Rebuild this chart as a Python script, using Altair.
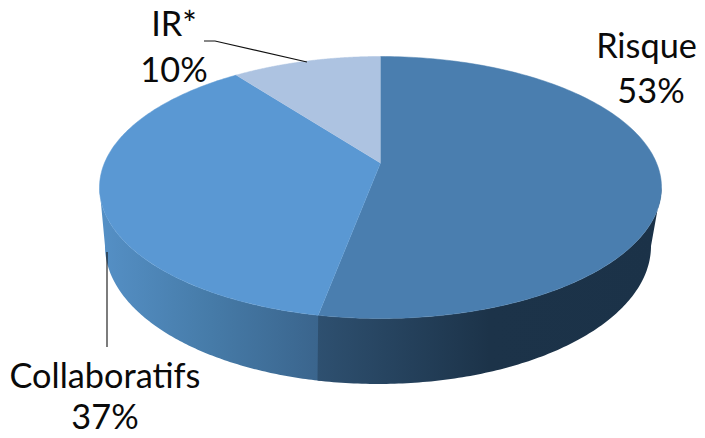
import math
import altair as alt
import pandas as pd

categories = ["Risque", "Collaboratifs", "IR*"]
values = [53.0, 36.6, 10.4]
top_colors = ["#4a7eaf", "#5a98d3", "#adc3e1"]
label_x1 = [646.5, 105, 174]
label_x2 = [651, 105, 174]
label_y1 = [58, 388, 36]
label_y2 = [103, 429, 82]
leader_irx = [204, 215, 307]
leader_iry = [41, 41, 62]
leader_cox = [107, 107]
leader_coy = [252, 347]

CX, CY, RX, RY = 380.5, 187.5, 281, 131
BX, BY, BRX, BRY = 378, 246, 273, 138
AX, AY = 380.5, 163

def boundary(theta):
    dx, dy = math.sin(theta) * RX, -math.cos(theta) * RY
    ox, oy = AX - CX, AY - CY
    a = (dx / RX) ** 2 + (dy / RY) ** 2
    b = 2 * (ox * dx / RX ** 2 + oy * dy / RY ** 2)
    c = (ox / RX) ** 2 + (oy / RY) ** 2 - 1
    s = (-b + math.sqrt(b * b - 4 * a * c)) / (2 * a)
    return AX + s * dx, AY + s * dy

def phi_of(theta):
    x, y = boundary(theta)
    return math.atan2((y - CY) / RY, (x - CX) / RX) % (2 * math.pi)

def poly(points, name):
    return pd.DataFrame({"x": [p[0] for p in points], "y": [p[1] for p in points],
                         "i": list(range(len(points))), "name": name})

X = alt.X("x:Q", axis=None, scale=alt.Scale(domain=[8, 697], nice=False, zero=False))
Y = alt.Y("y:Q", axis=None, scale=alt.Scale(domain=[430, 8], nice=False, zero=False))

def shape(df, fill, sw=0.6, stroke=None):
    return alt.Chart(df).mark_line(fill=fill, stroke=stroke or "transparent", strokeWidth=sw).encode(
        x=X, y=Y, order=alt.Order("i:Q"))

total = sum(values)
bounds = [0]
for v in values:
    bounds.append(bounds[-1] + v / total * 2 * math.pi)

def wall(p0, p1, n=120):
    top = [(CX + RX * math.cos(p0 + (p1 - p0) * k / n), CY + RY * math.sin(p0 + (p1 - p0) * k / n)) for k in range(n + 1)]
    bot = [(BX + BRX * math.cos(p1 + (p0 - p1) * k / n), BY + BRY * math.sin(p1 + (p0 - p1) * k / n)) for k in range(n + 1)]
    return top + bot

def grad(stops):
    return alt.LinearGradient(gradient="linear", x1=0, x2=1, y1=0, y2=0,
                              stops=[alt.GradientStop(offset=o, color=c) for o, c in stops])

split = phi_of(bounds[1])
layers = [
    shape(poly(wall(split - 0.012, math.pi), "wall2"),
          grad([(0, "#5590c6"), (0.5, "#467ba8"), (1, "#3a648c")])),
    shape(poly(wall(0, split), "wall1"),
          grad([(0, "#2e5070"), (0.5, "#1c3349"), (1, "#1b3248")])),
]
for k, name in enumerate(categories):
    a0, a1 = bounds[k], bounds[k + 1]
    pts = [(AX, AY)] + [boundary(a0 + (a1 - a0) * j / 160) for j in range(161)]
    layers.append(shape(poly(pts, name), top_colors[k], sw=0.5, stroke=top_colors[k]))

for lx, ly, nm in [(leader_irx, leader_iry, "ir"), (leader_cox, leader_coy, "co")]:
    d = poly(list(zip(lx, ly)), nm)
    layers.append(alt.Chart(d).mark_line(color="#111111", strokeWidth=1.1).encode(
        x=X, y=Y, order=alt.Order("i:Q")))

labels = pd.DataFrame({
    "x": label_x1 + label_x2, "y": label_y1 + label_y2,
    "t": categories + [f"{round(v)}%" for v in values],
})
layers.append(alt.Chart(labels).mark_text(
    font="Lato", fontSize=34.3, color="#0a0a0a", align="center", baseline="alphabetic"
).encode(x=X, y=Y, text="t:N"))

chart = alt.layer(*layers).properties(
    width=689, height=422, padding=0, background="white",
    autosize=alt.AutoSizeParams(type="none"),
).configure_view(stroke=None)

chart.save("out.html", embed_options={"renderer": "svg", "actions": False})
